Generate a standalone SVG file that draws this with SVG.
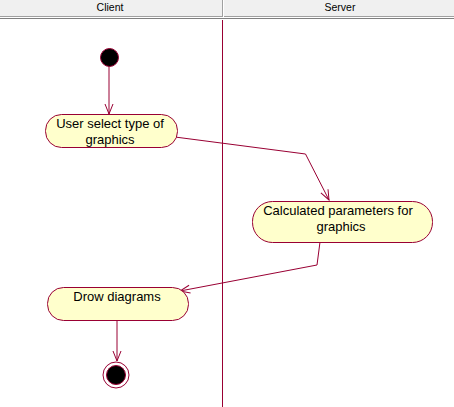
<svg xmlns="http://www.w3.org/2000/svg" width="454" height="407" viewBox="0 0 454 407">
<style>
.act{fill:#ffffcc;stroke:#990033;stroke-width:1}
.lbl{font-family:"Liberation Sans",Arial,sans-serif;font-size:13px;fill:#000;text-anchor:middle}
.hdr{font-family:"Liberation Sans",Arial,sans-serif;font-size:10.5px;fill:#000;text-anchor:middle}
.edge{fill:none;stroke:#990033;stroke-width:1}
</style>
<defs>
<marker id="arr" viewBox="0 0 12 12" refX="11" refY="6" markerWidth="12" markerHeight="12" markerUnits="userSpaceOnUse" orient="auto">
<path d="M1,2 L11,6 L1,10" fill="none" stroke="#990033" stroke-width="1"/>
</marker>
</defs>
<rect width="454" height="407" fill="#ffffff"/>
<g id="header">
<rect x="0" y="0" width="454" height="17" fill="#f0f0f0"/>
<line x1="0" y1="16.5" x2="454" y2="16.5" stroke="#a0a0a0"/>
<line x1="0" y1="18.5" x2="454" y2="18.5" stroke="#808080"/>
<line x1="222.5" y1="0" x2="222.5" y2="17" stroke="#a0a0a0"/>
<line x1="223.5" y1="0" x2="223.5" y2="17" stroke="#ffffff"/>
<text class="hdr" x="110" y="11">Client</text>
<text class="hdr" x="340" y="11">Server</text>
</g>
<line id="lane" x1="222.5" y1="20" x2="222.5" y2="407" stroke="#990033" stroke-width="1"/>
<g id="connectors">
<line class="edge" x1="109" y1="66" x2="109" y2="114" marker-end="url(#arr)"/>
<polyline class="edge" points="175,137 305.5,154 329,200" marker-end="url(#arr)"/>
<polyline class="edge" points="320,242 317,265 180,291" marker-end="url(#arr)"/>
<line class="edge" x1="117" y1="321" x2="117" y2="361" marker-end="url(#arr)"/>
</g>
<g id="start">
<circle cx="109.5" cy="57.5" r="9" fill="#000" stroke="#990033" stroke-width="1"/>
</g>
<g id="a1">
<rect class="act" x="45.5" y="114.5" width="132" height="33" rx="16" ry="16"/>
<text class="lbl" x="110" y="128">User select type of</text>
<text class="lbl" x="110" y="144">graphics</text>
</g>
<g id="a2">
<rect class="act" x="252.5" y="201.5" width="180" height="41" rx="20" ry="20"/>
<text class="lbl" x="338" y="215">Calculated parameters for</text>
<text class="lbl" x="341" y="231">graphics</text>
</g>
<g id="a3">
<rect class="act" x="47.5" y="287.5" width="141" height="33" rx="16" ry="16"/>
<text class="lbl" x="117" y="301">Drow diagrams</text>
</g>
<g id="end">
<circle cx="116" cy="375" r="13" fill="#fff" stroke="#990033" stroke-width="1"/>
<circle cx="116" cy="375" r="9.5" fill="#000" stroke="#990033" stroke-width="1"/>
</g>
</svg>
